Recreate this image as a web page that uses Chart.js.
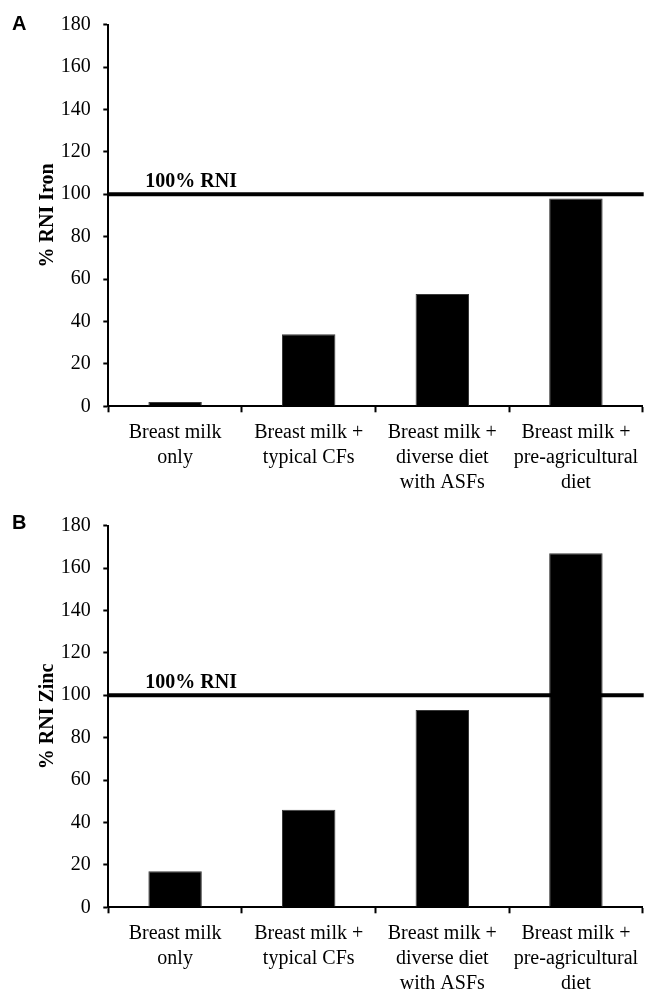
<!DOCTYPE html>
<html><head><meta charset="utf-8">
<script src="https://cdn.jsdelivr.net/npm/chart.js@4.4.0/dist/chart.umd.min.js"></script>
<style>
html,body{margin:0;padding:0;background:#fff;width:645px;height:990px;overflow:hidden}
canvas{position:absolute;left:0}
#cA{top:0}
#cB{top:501px}
</style></head><body>
<canvas id="cA" width="645" height="501"></canvas>
<canvas id="cB" width="645" height="489"></canvas>
<script>
// ---- data ----
const categories = [
  ["Breast milk", "only"],
  ["Breast milk +", "typical CFs"],
  ["Breast milk +", "diverse diet", "with ASFs"],
  ["Breast milk +", "pre-agricultural", "diet"]
];
const ironValues = [2, 34, 53, 98];
const zincValues = [17, 46, 93, 167];
const yTickValues = [0, 20, 40, 60, 80, 100, 120, 140, 160, 180];
const refValue = 100;
const refLabel = "100% RNI";
const panelLabels = ["A", "B"];
const axisTitles = ["% RNI Iron", "% RNI Zinc"];

// ---- styling / drawing ----
const SERIF = '"Liberation Serif", "Times New Roman", serif';
const SANS = '"Liberation Sans", Arial, sans-serif';

const refLinePlugin = {
  id: 'refLine',
  afterDatasetsDraw(chart, args, opts) {
    const {ctx, chartArea, scales: {y}} = chart;
    const py = y.getPixelForValue(opts.value);
    ctx.save();
    ctx.strokeStyle = '#000';
    ctx.lineWidth = 4;
    ctx.beginPath();
    ctx.moveTo(chartArea.left, py);
    ctx.lineTo(chartArea.right + 1, py);
    ctx.stroke();
    ctx.fillStyle = '#000';
    ctx.textAlign = 'left';
    ctx.textBaseline = 'alphabetic';
    ctx.font = 'bold 20px ' + SERIF;
    ctx.fillText(opts.label, chartArea.left + 37, py - 7);
    ctx.font = 'bold 20px ' + SANS;
    ctx.fillText(opts.panel, 12, opts.panelY);
    ctx.restore();
  }
};

function makeChart(id, values, title, xAxisHeight, panel, panelY) {
  return new Chart(document.getElementById(id), {
    type: 'bar',
    data: {
      labels: categories,
      datasets: [{
        data: values,
        backgroundColor: '#000',
        borderColor: '#3a3a3a',
        borderWidth: 1,
        barPercentage: 0.8,
        categoryPercentage: 0.5
      }]
    },
    options: {
      responsive: false,
      animation: false,
      devicePixelRatio: 1,
      layout: {padding: {top: 20, right: 2.3, left: 0, bottom: 0}},
      plugins: {
        legend: {display: false},
        tooltip: {enabled: false},
        refLine: {value: refValue, label: refLabel, panel: panel, panelY: panelY}
      },
      scales: {
        x: {
          offset: true,
          grid: {display: true, offset: true, drawOnChartArea: false, drawTicks: true,
                 tickLength: 6, tickWidth: 2, tickColor: '#000', color: '#000'},
          border: {display: true, color: '#000', width: 2},
          ticks: {color: '#000', padding: 7.5, maxRotation: 0, autoSkip: false,
                  font: {family: SERIF, size: 20, lineHeight: 1.25}},
          afterFit(scale) {
            scale.height = xAxisHeight;
            scale.paddingLeft = 0;
            scale.paddingRight = 0;
          }
        },
        y: {
          min: yTickValues[0],
          max: yTickValues[yTickValues.length - 1],
          afterBuildTicks(scale) {
            scale.ticks = yTickValues.map(v => ({value: v}));
          },
          grid: {display: true, drawOnChartArea: false, drawTicks: true,
                 tickLength: 5, tickWidth: 2, tickColor: '#000', color: '#000'},
          border: {display: true, color: '#000', width: 2},
          ticks: {color: '#000', padding: 12.6,
                  font: {family: SERIF, size: 20, lineHeight: 1.2}},
          title: {display: true, text: title, color: '#000',
                  font: {family: SERIF, size: 20, weight: 'bold', lineHeight: 1.2},
                  padding: {top: 36, bottom: 0}},
          afterFit(scale) {
            scale.width = 108.3;
          }
        }
      }
    },
    plugins: [refLinePlugin]
  });
}

makeChart('cA', ironValues, axisTitles[0], 501 - 406.3, panelLabels[0], 29.5);
makeChart('cB', zincValues, axisTitles[1], 489 - 406.3, panelLabels[1], 27.5);
</script>
</body></html>
